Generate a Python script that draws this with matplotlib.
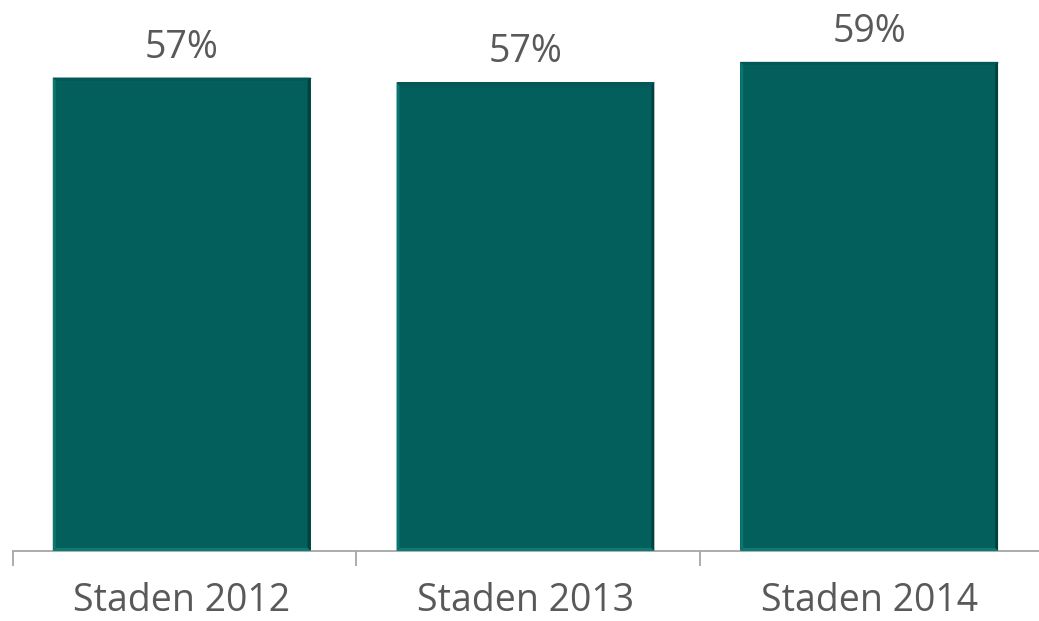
import matplotlib
matplotlib.use("Agg")
import matplotlib.pyplot as plt
from matplotlib.patches import Polygon

categories = ["Staden 2012", "Staden 2013", "Staden 2014"]
values = [57.4, 56.8, 59.3]
labels = ["57%", "57%", "59%"]

W, H = 1039, 621
fig = plt.figure(figsize=(W / 100, H / 100), dpi=100)
# axes runs off the right edge; baseline near the bottom
left_px, span_px, base_px = 9.8, 1034.0, 551.0
ax = fig.add_axes([left_px / W, 1 - base_px / H, span_px / W, base_px / H])
ax.set_xlim(-0.5, 2.5)
ax.set_ylim(0, 66.8)

face = "#025f5c"
bw = 0.75
bars = ax.bar(range(len(values)), values, width=bw, color=face, zorder=2)

# bevelled edges on each bar
dx = 3.0 * 3 / span_px
dy = 66.8 / base_px * 3.0
for b in bars:
    xl, xr = b.get_x(), b.get_x() + b.get_width()
    yb, yt = 0, b.get_height()
    shades = [
        ([(xl, yb), (xl + dx, yb + dy), (xl + dx, yt - dy), (xl, yt)], "#0b7570"),  # left
        ([(xl, yt), (xl + dx, yt - dy), (xr - dx, yt - dy), (xr, yt)], "#035754"),  # top
        ([(xr, yt), (xr - dx, yt - dy), (xr - dx, yb + dy), (xr, yb)], "#01423f"),  # right
        ([(xl, yb), (xl + dx, yb + dy), (xr - dx, yb + dy), (xr, yb)], "#0e7a74"),  # bottom
    ]
    for pts, c in shades:
        ax.add_patch(Polygon(pts, closed=True, color=c, lw=0, zorder=3))
    ax.plot([xl, xr], [yt, yt], color="#c8d0cf", lw=0.8, zorder=1)

font = "Open Sans"
fs = 27
for i, (v, t) in enumerate(zip(values, labels)):
    ax.annotate(t, (i, v), xytext=(0, 14.4), textcoords="offset points",
                ha="center", va="baseline", fontsize=fs, color="#595959",
                family=font)

for i, c in enumerate(categories):
    ax.annotate(c, (i, 0), xytext=(0, -43.0), textcoords="offset points",
                ha="center", va="baseline", fontsize=fs, color="#595959",
                family=font, annotation_clip=False)

# category separators sit slightly right of the half-way points
sep = [k - 0.5 + 0.008 for k in range(len(categories) + 1)]
for s in ["top", "right", "left"]:
    ax.spines[s].set_visible(False)
ax.spines["bottom"].set_color("#a6a6a6")
ax.spines["bottom"].set_linewidth(1.3)
ax.spines["bottom"].set_bounds(sep[0], 2.5)
ax.set_yticks([])
ax.set_xticks(sep)
ax.set_xticklabels([])
ax.tick_params(axis="x", length=11, width=1.3, color="#a6a6a6")

fig.savefig("out.png", dpi=100)
